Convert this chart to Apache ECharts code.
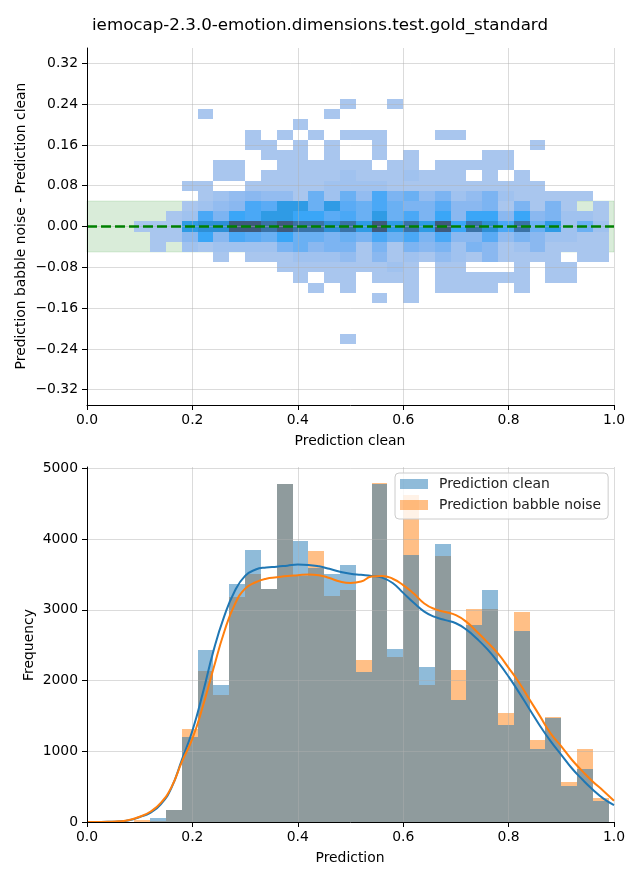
<!DOCTYPE html>
<html>
<head>
<meta charset="utf-8">
<script src="https://cdn.jsdelivr.net/npm/echarts@6/dist/echarts.min.js"></script>
<style>html,body{margin:0;padding:0;background:#fff}#c{width:640px;height:880px}</style>
</head>
<body>
<div id="c"></div>
<script>
// ---------- DATA ----------
const titleText = 'iemocap-2.3.0-emotion.dimensions.test.gold_standard';
const xTicks = [0, 0.2, 0.4, 0.6, 0.8, 1.0];
const topYTicks = [-0.32, -0.24, -0.16, -0.08, 0, 0.08, 0.16, 0.24, 0.32];
const bottomYTicks = [0, 1000, 2000, 3000, 4000, 5000];
const toleranceBand = [-0.05, 0.05];

// histogram bin edges (shared by both panels)
const histBinEdges = [0.09,0.12,0.15,0.18,0.21,0.24,0.27,0.30,0.33,0.36,0.39,0.42,0.45,0.48,0.51,0.54,0.57,0.60,0.63,0.66,0.69,0.72,0.75,0.78,0.81,0.84,0.87,0.90,0.93,0.96,0.99];
const countsClean  = [0, 50, 165, 1200, 2430, 1940, 3370, 3840, 3290, 4780, 3980, 3585, 3510, 3640, 2115, 4780, 2450, 3770, 2195, 3925, 1730, 2780, 3285, 1375, 2705, 1035, 1475, 510, 750, 290];
const countsBabble = [35, 20, 175, 1310, 2130, 1800, 3180, 3510, 3300, 4780, 3475, 3830, 3190, 3275, 2295, 4800, 2330, 4620, 1940, 3755, 2150, 3015, 3015, 1545, 2975, 1160, 1485, 565, 1035, 340];

// KDE curves
const kdeX = [0,0.02,0.04,0.06,0.08,0.10,0.12,0.14,0.16,0.18,0.20,0.22,0.24,0.26,0.28,0.30,0.32,0.34,0.36,0.38,0.40,0.42,0.44,0.46,0.48,0.50,0.52,0.54,0.56,0.58,0.60,0.62,0.64,0.66,0.68,0.70,0.72,0.74,0.76,0.78,0.80,0.82,0.84,0.86,0.88,0.90,0.92,0.94,0.96,0.98,1.00];
const kdeClean  = [0,1,3,8,25,70,130,250,480,880,1290,1830,2420,2900,3260,3480,3570,3600,3610,3625,3640,3635,3615,3580,3540,3510,3495,3480,3455,3380,3240,3100,2975,2900,2855,2810,2720,2590,2440,2260,2055,1830,1590,1355,1140,950,760,600,455,330,240];
const kdeBabble = [0,1,3,9,28,75,145,270,490,850,1180,1640,2170,2680,3070,3300,3390,3440,3460,3480,3490,3500,3490,3450,3400,3380,3400,3470,3480,3440,3350,3230,3090,3010,2970,2925,2830,2690,2540,2380,2180,1970,1730,1490,1250,1070,880,720,570,440,300];

// 2D histogram: row centres (difference values) and intensity levels per x bin
const heatYCenters = [0.24,0.22,0.20,0.18,0.16,0.14,0.12,0.10,0.08,0.06,0.04,0.02,0,-0.02,-0.04,-0.06,-0.08,-0.10,-0.12,-0.14,-0.16,-0.18,-0.20,-0.22];
const heatYBinHeight = 0.02;
const heatLevels = [
 [0,0,0,0,0,0,0,0,0,0, 0,0,0,1,0,0,1,0,0,0, 0,0,0,0,0,0,0,0,0,0],
 [0,0,0,0,1,0,0,0,0,0, 0,0,1,0,0,0,0,0,0,0, 0,0,0,0,0,0,0,0,0,0],
 [0,0,0,0,0,0,0,0,0,0, 1,0,0,0,0,0,0,0,0,0, 0,0,0,0,0,0,0,0,0,0],
 [0,0,0,0,0,0,0,1,0,1, 0,1,0,1,1,1,0,0,0,1, 1,0,0,0,0,0,0,0,0,0],
 [0,0,0,0,0,0,0,1,1,0, 1,0,1,0,0,1,0,0,0,0, 0,0,0,0,0,1,0,0,0,0],
 [0,0,0,0,0,0,0,0,1,1, 1,0,1,0,0,1,0,1,0,0, 0,0,1,1,0,0,0,0,0,0],
 [0,0,0,0,0,1,1,0,0,1, 1,1,1,1,1,0,1,1,0,1, 1,1,1,1,0,0,0,0,0,0],
 [0,0,0,0,0,1,1,0,1,1, 1,1,1,2,1,1,1,2,1,1, 1,0,1,0,1,0,0,0,0,0],
 [0,0,0,1,1,0,0,1,1,1, 1,1,2,2,2,2,1,1,1,1, 1,1,1,1,1,1,0,0,0,0],
 [0,0,0,0,1,2,3,4,3,3, 1,6,2,6,3,8,5,6,3,5, 2,3,5,2,1,1,1,1,1,0],
 [0,0,0,1,2,3,4,8,7,10, 10,6,10,7,6,8,6,5,5,7, 4,4,5,1,5,1,5,1,0,1],
 [0,0,1,2,8,5,9,8,10,10, 9,9,7,8,6,10,6,8,5,9, 4,9,9,4,9,4,5,2,2,1],
 [1,1,1,10,11,11,13,13,12,13, 12,12,11,12,10,13,10,12,10,13, 9,12,11,8,12,6,10,2,6,2],
 [0,1,1,4,9,4,8,7,6,9, 6,6,5,6,5,8,6,8,5,8, 4,4,7,3,5,4,2,2,1,1],
 [0,1,0,2,1,2,2,2,2,5, 6,4,5,5,1,5,1,5,4,5, 2,5,4,1,2,4,1,1,1,1],
 [0,0,0,0,0,1,0,1,1,1, 2,2,2,3,1,4,1,2,1,3, 2,1,4,1,1,1,1,0,1,1],
 [0,0,0,0,0,0,0,0,0,1, 1,1,1,1,1,1,2,1,0,1, 1,0,0,0,1,0,1,1,0,0],
 [0,0,0,0,0,0,0,0,0,0, 1,0,1,1,0,1,1,1,0,1, 1,1,1,1,1,0,1,1,0,0],
 [0,0,0,0,0,0,0,0,0,0, 0,1,0,1,0,0,0,1,0,1, 1,1,1,0,1,0,0,0,0,0],
 [0,0,0,0,0,0,0,0,0,0, 0,0,0,0,0,1,0,1,0,0, 0,0,0,0,0,0,0,0,0,0],
 [0,0,0,0,0,0,0,0,0,0, 0,0,0,0,0,0,0,0,0,0, 0,0,0,0,0,0,0,0,0,0],
 [0,0,0,0,0,0,0,0,0,0, 0,0,0,0,0,0,0,0,0,0, 0,0,0,0,0,0,0,0,0,0],
 [0,0,0,0,0,0,0,0,0,0, 0,0,0,0,0,0,0,0,0,0, 0,0,0,0,0,0,0,0,0,0],
 [0,0,0,0,0,0,0,0,0,0, 0,0,0,1,0,0,0,0,0,0, 0,0,0,0,0,0,0,0,0,0]
];

// ---------- STYLE ----------
const FONT = 'DejaVu Sans';
const heatPalette = ['#a9c6ee','#a0c2ef','#93bcf0','#8ab8f0','#7cb4f2','#6ab0f3','#5aabf5','#4aa8f6','#3aa6f7','#2f9be5','#2e8fd6','#3a72a6','#3f5a7c'];
const gridLineStyle = {color: 'rgba(176,176,176,0.45)', width: 1, type: 'solid'};

// ---------- BUILD ----------
const heatData = [];
heatLevels.forEach((row, r) => {
  row.forEach((lv, i) => {
    if (lv > 0) heatData.push([histBinEdges[i], histBinEdges[i+1], heatYCenters[r] - heatYBinHeight/2, heatYCenters[r] + heatYBinHeight/2, lv]);
  });
});
const barsClean = countsClean.map((c, i) => [histBinEdges[i], histBinEdges[i+1], c]);
const barsBabble = countsBabble.map((c, i) => [histBinEdges[i], histBinEdges[i+1], c]);

function rectItem(api, x0, x1, y0, y1, fill) {
  const a = api.coord([x0, y1]);
  const b = api.coord([x1, y0]);
  const x = Math.round(a[0]), y = Math.round(a[1]);
  return {type: 'rect', shape: {x: x, y: y, width: Math.round(b[0]) - x, height: Math.round(b[1]) - y}, style: {fill: fill}};
}
function fmtMinus(v, d) { return v.toFixed(d).replace('-', '\u2212'); }

const axisCommon = {
  axisLine: {show: true, onZero: false, lineStyle: {color: '#000', width: 1}},
  axisTick: {show: true, length: 5, lineStyle: {color: '#000', width: 1}},
  splitLine: {show: false},
  z: 10
};
const labelStyle = {color: '#000', fontFamily: FONT, fontSize: 13.9};

const chart = echarts.init(document.getElementById('c'), null, {renderer: 'canvas'});
chart.setOption({
  animation: false,
  backgroundColor: '#fff',
  grid: [
    {left: 87, width: 527, top: 48, height: 357},
    {left: 87, width: 527, top: 467, height: 355}
  ],
  xAxis: [
    Object.assign({}, axisCommon, {type: 'value', gridIndex: 0, min: 0, max: 1, interval: 0.2,
      axisLabel: Object.assign({}, labelStyle, {margin: 8, formatter: v => v.toFixed(1)})}),
    Object.assign({}, axisCommon, {type: 'value', gridIndex: 1, min: 0, max: 1, interval: 0.2,
      axisLabel: Object.assign({}, labelStyle, {margin: 8, formatter: v => v.toFixed(1)})})
  ],
  yAxis: [
    Object.assign({}, axisCommon, {type: 'value', gridIndex: 0, min: -0.35, max: 0.35,
      axisTick: {show: true, length: 5, lineStyle: {color: '#000'}, customValues: topYTicks},
      axisLabel: Object.assign({}, labelStyle, {margin: 9, customValues: topYTicks, formatter: v => fmtMinus(v, 2)})}),
    Object.assign({}, axisCommon, {type: 'value', gridIndex: 1, min: 0, max: 5020,
      axisTick: {show: true, length: 5, lineStyle: {color: '#000'}, customValues: bottomYTicks},
      axisLabel: Object.assign({}, labelStyle, {margin: 9, customValues: bottomYTicks, formatter: v => String(v)})})
  ],
  legend: {
    data: ['Prediction clean', 'Prediction babble noise'],
    orient: 'vertical', left: 395, top: 473,
    icon: 'rect', itemWidth: 28, itemHeight: 10, itemGap: 5,
    padding: [3, 7, 6, 5],
    borderColor: '#cccccc', borderWidth: 1, borderRadius: 4,
    backgroundColor: 'rgba(255,255,255,0.8)',
    textStyle: {color: '#222', fontFamily: FONT, fontSize: 13.9, lineHeight: 16, padding: [0, 0, 0, 6]},
    selectedMode: false, z: 20
  },
  graphic: [
    {type: 'text', x: 320, y: 26, style: {text: titleText, fill: '#000', font: '16.7px "DejaVu Sans"', align: 'center', verticalAlign: 'middle'}},
    {type: 'text', x: 350, y: 441, style: {text: 'Prediction clean', fill: '#000', font: '13.9px "DejaVu Sans"', align: 'center', verticalAlign: 'middle'}},
    {type: 'text', x: 350, y: 858, style: {text: 'Prediction', fill: '#000', font: '13.9px "DejaVu Sans"', align: 'center', verticalAlign: 'middle'}},
    {type: 'text', x: 21, y: 226, rotation: Math.PI / 2, style: {text: 'Prediction babble noise - Prediction clean', fill: '#000', font: '13.9px "DejaVu Sans"', align: 'center', verticalAlign: 'middle'}},
    {type: 'text', x: 29, y: 645, rotation: Math.PI / 2, style: {text: 'Frequency', fill: '#000', font: '13.9px "DejaVu Sans"', align: 'center', verticalAlign: 'middle'}}
  ],
  series: [
    // tolerance band
    {type: 'line', xAxisIndex: 0, yAxisIndex: 0, data: [], silent: true,
      markArea: {silent: true, z: 1, itemStyle: {color: 'rgba(0,128,0,0.15)', borderColor: 'rgba(0,128,0,0.12)', borderWidth: 1},
        data: [[{yAxis: toleranceBand[0]}, {yAxis: toleranceBand[1]}]]}},
    // 2D histogram cells
    {type: 'custom', name: 'diff', xAxisIndex: 0, yAxisIndex: 0, z: 2, silent: true,
      encode: {x: [0, 1], y: [2, 3]},
      data: heatData,
      renderItem: (params, api) => rectItem(api, api.value(0), api.value(1), api.value(2), api.value(3), heatPalette[api.value(4) - 1])},
    // top grid lines
    {type: 'line', xAxisIndex: 0, yAxisIndex: 0, data: [], silent: true,
      markLine: {silent: true, z: 5, symbol: ['none', 'none'], label: {show: false}, lineStyle: gridLineStyle,
        data: topYTicks.map(v => ({yAxis: v})).concat(xTicks.map(v => ({xAxis: v})))}},
    // zero reference
    {type: 'line', xAxisIndex: 0, yAxisIndex: 0, data: [], silent: true,
      markLine: {silent: true, z: 6, symbol: ['none', 'none'], label: {show: false},
        lineStyle: {color: '#008000', width: 2.5, type: [10, 4]},
        data: [{yAxis: 0}]}},
    // histogram bars
    {type: 'custom', name: 'Prediction babble noise', xAxisIndex: 1, yAxisIndex: 1, z: 2, silent: true,
      itemStyle: {color: 'rgba(255,127,14,0.5)'},
      encode: {x: [0, 1], y: 2}, data: barsBabble,
      renderItem: (params, api) => rectItem(api, api.value(0), api.value(1), 0, api.value(2), api.visual('color'))},
    {type: 'custom', name: 'Prediction clean', xAxisIndex: 1, yAxisIndex: 1, z: 2, silent: true,
      itemStyle: {color: 'rgba(31,119,180,0.5)'},
      encode: {x: [0, 1], y: 2}, data: barsClean,
      renderItem: (params, api) => rectItem(api, api.value(0), api.value(1), 0, api.value(2), api.visual('color'))},
    // bottom grid lines
    {type: 'line', xAxisIndex: 1, yAxisIndex: 1, data: [], silent: true,
      markLine: {silent: true, z: 5, symbol: ['none', 'none'], label: {show: false}, lineStyle: gridLineStyle,
        data: bottomYTicks.map(v => ({yAxis: v})).concat(xTicks.map(v => ({xAxis: v})))}},
    // KDE
    {type: 'line', name: 'kde clean', xAxisIndex: 1, yAxisIndex: 1, z: 7, smooth: true, showSymbol: false, silent: true,
      lineStyle: {color: '#1f77b4', width: 2}, itemStyle: {color: '#1f77b4'},
      data: kdeX.map((x, i) => [x, kdeClean[i]])},
    {type: 'line', name: 'kde babble', xAxisIndex: 1, yAxisIndex: 1, z: 7, smooth: true, showSymbol: false, silent: true,
      lineStyle: {color: '#ff7f0e', width: 2}, itemStyle: {color: '#ff7f0e'},
      data: kdeX.map((x, i) => [x, kdeBabble[i]])}
  ]
});
</script>
</body>
</html>
